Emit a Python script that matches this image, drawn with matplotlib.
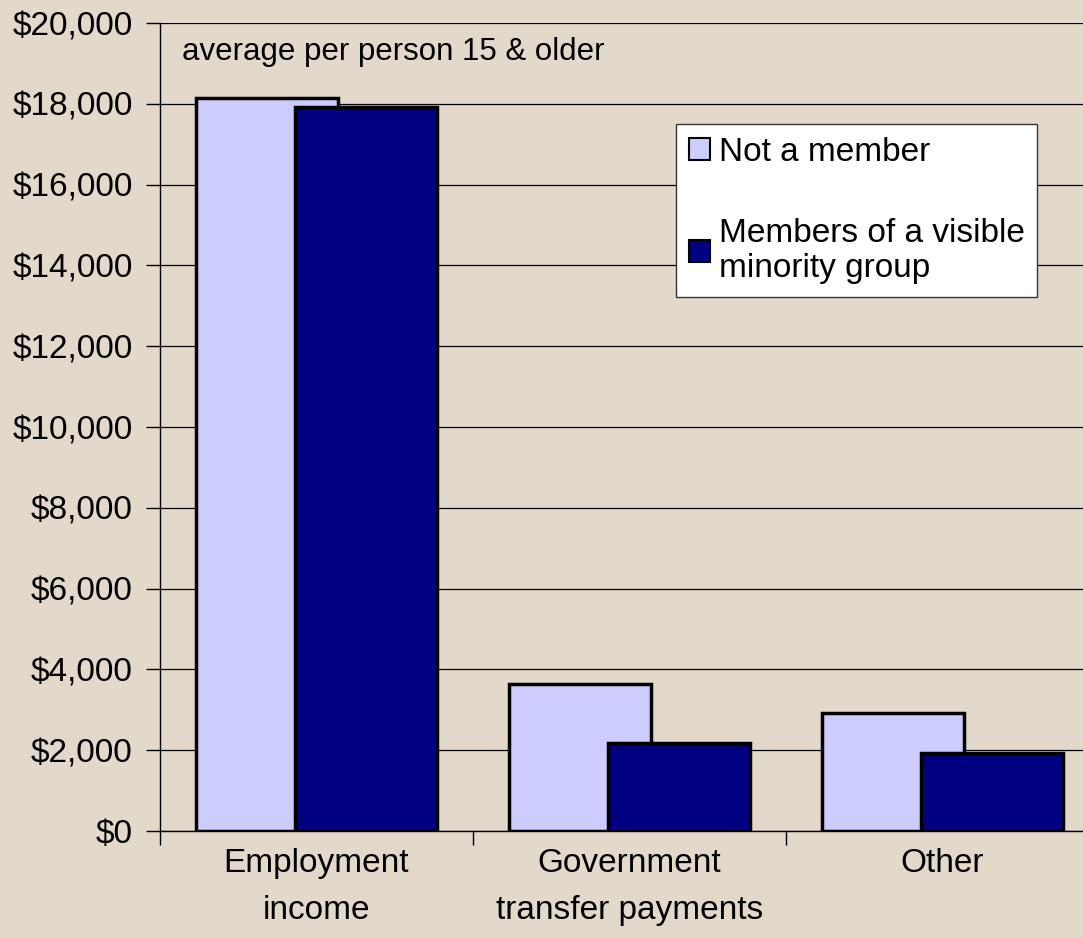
import matplotlib
matplotlib.use("Agg")
import matplotlib.pyplot as plt
from matplotlib.patches import Patch
from matplotlib.ticker import FuncFormatter, MultipleLocator
import numpy as np

categories = ["Employment\nincome", "Government\ntransfer payments", "Other"]
not_member = [18150, 3650, 2920]
visible_minority = [17920, 2170, 1920]
series_names = ["Not a member", "Members of a visible\nminority group"]
note = "average per person 15 & older"

plt.rcParams['font.family'] = ['Liberation Sans', 'DejaVu Sans']

bg = "#E3D9CB"
fig = plt.figure(figsize=(10.83, 9.38), dpi=100, facecolor=bg)
ax = fig.add_axes([160/1083, (938-831)/938, 939/1083, 808/938])
ax.set_facecolor(bg)

x = np.arange(len(categories))
w = 142/313
off = 99/313/2
ax.bar(x - off, not_member, width=w, color="#CCCCFF", edgecolor="black", linewidth=2.5, zorder=3, label=series_names[0])
ax.bar(x + off, visible_minority, width=w, color="#000080", edgecolor="black", linewidth=2.5, zorder=4, label=series_names[1])

ax.set_xlim(-0.5, 2.5)
ax.set_ylim(0, 20000)
ax.yaxis.set_major_locator(MultipleLocator(2000))
ax.yaxis.set_major_formatter(FuncFormatter(lambda v, p: f"${v:,.0f}"))
ax.grid(axis='y', color='black', linewidth=0.9, zorder=1)
ax.set_axisbelow(True)
for s in ['top', 'right']:
    ax.spines[s].set_visible(False)
ax.spines['left'].set_linewidth(1)
ax.spines['bottom'].set_linewidth(1)

ax.set_xticks(x)
ax.set_xticklabels(categories, fontsize=24, linespacing=1.7)
ax.tick_params(axis='x', length=0, pad=12)
ax.set_xticks([-0.5, 0.5, 1.5, 2.5], minor=True)
ax.tick_params(axis='x', which='minor', length=10, width=1, direction='out')
ax.tick_params(axis='y', length=10, width=1, direction='out', labelsize=24, pad=9.5)

fig.text(182/1083, 1 - 52/938, note, fontsize=22.5, va='center', ha='left')

handles = [Patch(facecolor="#CCCCFF", edgecolor="black", linewidth=1.5),
           Patch(facecolor="#000080", edgecolor="black", linewidth=1.5)]
leg = ax.legend(handles, series_names, loc='upper left',
                bbox_to_anchor=(676/1083, 1 - 124/938), bbox_transform=fig.transFigure,
                fontsize=24, frameon=True, fancybox=False, framealpha=1,
                edgecolor="#333333", handlelength=0.65, handleheight=0.65,
                handletextpad=0.25, labelspacing=1.5, borderpad=0.38, borderaxespad=0)
leg.get_frame().set_linewidth(1)
leg.set_zorder(10)

fig.savefig("out.png", dpi=100, facecolor=bg)
